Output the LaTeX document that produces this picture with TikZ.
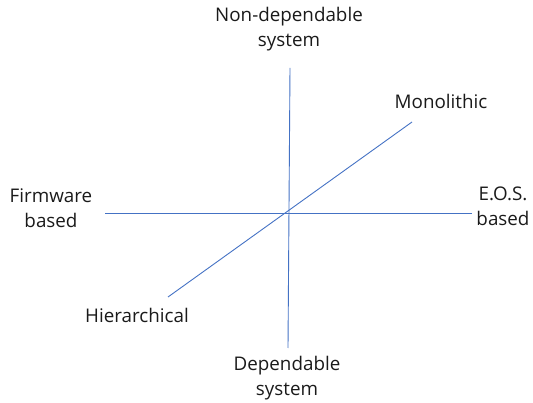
\documentclass[tikz,border=0pt]{standalone}
\usepackage{fontspec}
\setmainfont{Open Sans}
\definecolor{axisblue}{HTML}{4472C4}
\definecolor{txt}{HTML}{1A1A1A}
\begin{document}
\begin{tikzpicture}[x=1pt,y=-1pt,
  axis/.style={draw=axisblue,line width=0.9pt},
  lbl/.style={text=txt,font=\fontsize{18.8}{25}\selectfont,align=center,inner sep=0pt}]
\useasboundingbox (0,0) rectangle (533,403);
\coordinate (vt) at (290,68);
\coordinate (vb) at (288,348);
\coordinate (hl) at (105,213);
\coordinate (hr) at (472,213);
\coordinate (dt) at (412,122);
\coordinate (db) at (168,297);
\draw[axis] (vt) -- (vb);
\draw[axis] (hl) -- (hr);
\draw[axis] (db) -- (dt);
\node[lbl] (nd) at (289,29) {Non-dependable\\system};
\node[lbl] (mo) at (441,101) {Monolithic};
\node[lbl] (fw) at (51,208) {Firmware\\based};
\node[lbl] (eos) at (503,206) {E.O.S.\\based};
\node[lbl] (hi) at (137,315) {Hierarchical};
\node[lbl] (dp) at (287,378) {Dependable\\system};
\end{tikzpicture}
\end{document}
